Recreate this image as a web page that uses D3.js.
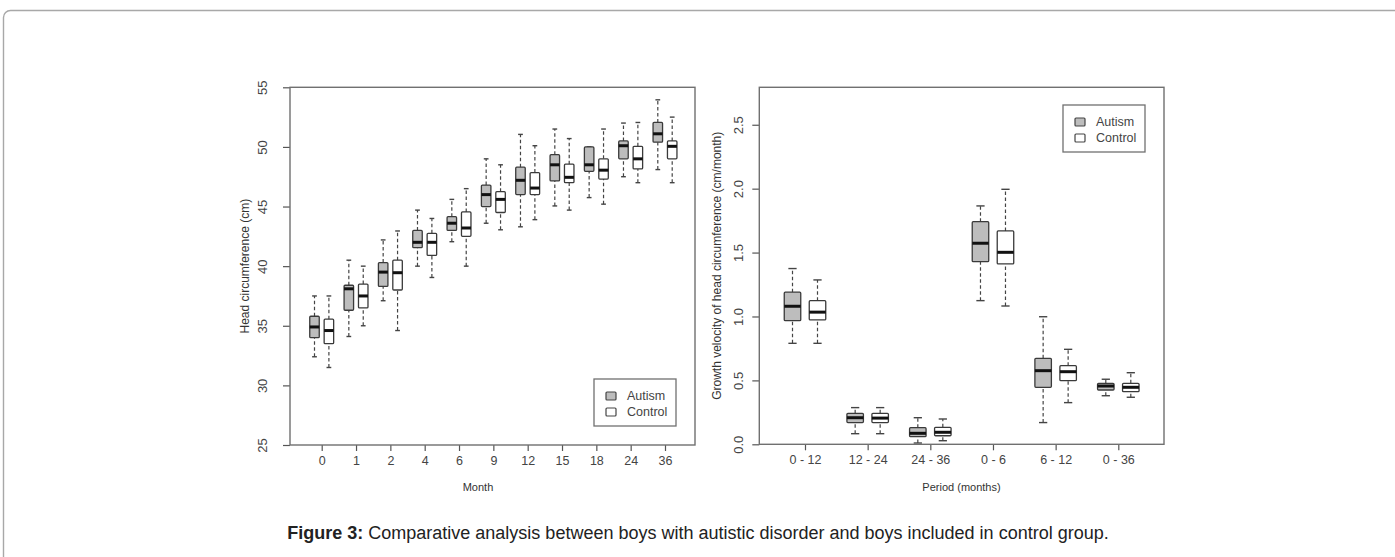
<!DOCTYPE html>
<html>
<head>
<meta charset="utf-8">
<script src="https://cdn.jsdelivr.net/npm/d3@7"></script>
<style>
  body { margin: 0; background: #fff; }
  svg { display: block; font-family: "Liberation Sans", Arial, sans-serif; }
</style>
</head>
<body>
<div id="figure"></div>
<script>
// Data: each box is [lower whisker, Q1, median, Q3, upper whisker]
var months = ['0', '1', '2', '4', '6', '9', '12', '15', '18', '24', '36'];

var headAutism = [
    [32.4, 34.0, 34.9, 35.8, 37.5],
    [34.1, 36.3, 38.1, 38.4, 40.5],
    [37.1, 38.3, 39.5, 40.3, 42.2],
    [40.0, 41.55, 42.0, 43.0, 44.7],
    [42.05, 43.0, 43.6, 44.15, 45.6],
    [43.6, 45.0, 46.0, 46.8, 49.0],
    [43.3, 46.0, 47.2, 48.3, 51.05],
    [45.05, 47.15, 48.5, 49.35, 51.5],
    [45.75, 47.95, 48.5, 50.0, 50.0],
    [47.5, 49.0, 50.1, 50.5, 52.0],
    [48.1, 50.4, 51.1, 52.05, 53.95]
];

var headControl = [
    [31.5, 33.5, 34.6, 35.55, 37.5],
    [35.0, 36.5, 37.5, 38.5, 40.0],
    [34.6, 38.0, 39.45, 40.5, 42.95],
    [39.05, 40.9, 42.0, 42.75, 44.0],
    [40.0, 42.5, 43.2, 44.55, 46.5],
    [43.05, 44.5, 45.6, 46.25, 48.5],
    [43.9, 46.0, 46.55, 47.85, 50.1],
    [44.7, 47.0, 47.45, 48.55, 50.7],
    [45.2, 47.3, 48.05, 49.0, 51.5],
    [47.0, 48.15, 49.0, 50.05, 52.05],
    [47.0, 49.0, 50.05, 50.5, 52.5]
];

var periods = ['0 - 12', '12 - 24', '24 - 36', '0 - 6', '6 - 12', '0 - 36'];

var velAutism = [
    [0.79, 0.967, 1.08, 1.19, 1.375],
    [0.083, 0.17, 0.208, 0.242, 0.287],
    [0.01, 0.06, 0.086, 0.13, 0.208],
    [1.124, 1.429, 1.573, 1.742, 1.865],
    [0.17, 0.446, 0.576, 0.673, 0.998],
    [0.38, 0.425, 0.456, 0.477, 0.509]
];

var velControl = [
    [0.79, 0.973, 1.034, 1.124, 1.286],
    [0.083, 0.17, 0.205, 0.242, 0.287],
    [0.028, 0.067, 0.094, 0.133, 0.198],
    [1.082, 1.411, 1.502, 1.669, 1.995],
    [0.326, 0.498, 0.568, 0.615, 0.743],
    [0.368, 0.412, 0.446, 0.477, 0.56]
];

var headTicks = [25, 30, 35, 40, 45, 50, 55];
var velTicks = [0, 0.5, 1.0, 1.5, 2.0, 2.5];
var groups = ['Autism', 'Control'];
var groupFill = ['#bdbdbd', '#ffffff'];

var svgWidth = 1395;
var svgHeight = 557;

var svg = d3.select('#figure')
    .append('svg')
    .attr('width', svgWidth)
    .attr('height', svgHeight);

// page frame round the figure
svg.append('rect')
    .attr('x', 3.5)
    .attr('y', 10.5)
    .attr('width', 1500)
    .attr('height', 700)
    .attr('rx', 7)
    .attr('fill', 'none')
    .attr('stroke', '#a8a8a8')
    .attr('stroke-width', 1.4);

function drawPanel(opt) {
    var g = svg.append('g');

    var x = d3.scalePoint().domain(opt.cats).range(opt.xRange);
    var y = d3.scaleLinear().domain(opt.yDomain).range(opt.yRange);

    var left = opt.box[0], right = opt.box[1];
    var top = y(opt.yDomain[1]), bottom = y(opt.yDomain[0]);

    // x axis ticks and labels
    var xAxis = d3.axisBottom(x).tickSize(6).tickPadding(5);
    var gx = g.append('g')
        .attr('transform', `translate(0, ${bottom})`)
        .call(xAxis);
    gx.select('.domain').remove();
    gx.selectAll('line').attr('stroke', '#555').attr('stroke-width', 1.2);
    gx.selectAll('text')
        .attr('font-size', '12.5px')
        .attr('fill', '#444')
        .attr('font-family', '"Liberation Sans", Arial, sans-serif');

    // y axis with R style vertical labels (tick groups are already at y)
    var yAxis = d3.axisLeft(y).tickValues(opt.yTicks).tickSize(7)
        .tickFormat(opt.yFormat);
    var gy = g.append('g')
        .attr('transform', `translate(${left}, 0)`)
        .call(yAxis);
    gy.select('.domain').remove();
    gy.selectAll('line').attr('stroke', '#555').attr('stroke-width', 1.2);
    gy.selectAll('text')
        .attr('font-size', '13px')
        .attr('fill', '#444')
        .attr('font-family', '"Liberation Sans", Arial, sans-serif')
        .attr('text-anchor', 'middle')
        .attr('dy', null)
        .attr('x', 0)
        .attr('y', 4.5)
        .attr('transform', `translate(${opt.yLabelX - left}, 0) rotate(-90)`);

    // boxes, one pair per category
    var series = [opt.autism, opt.control];
    series.forEach(function(values, gi) {
        var off = (gi === 0 ? -1 : 1) * opt.offset;
        var bw = opt.boxWidth;
        var sel = g.append('g').selectAll('g')
            .data(values)
            .enter()
            .append('g')
            .attr('transform', (d, i) => `translate(${x(opt.cats[i]) + off}, 0)`);

        // dashed whiskers
        sel.append('line')
            .attr('y1', d => y(d[0])).attr('y2', d => y(d[1]))
            .attr('stroke', '#444').attr('stroke-width', 1.2)
            .attr('stroke-dasharray', '3.5,2.5');
        sel.append('line')
            .attr('y1', d => y(d[3])).attr('y2', d => y(d[4]))
            .attr('stroke', '#444').attr('stroke-width', 1.2)
            .attr('stroke-dasharray', '3.5,2.5');
        // staples
        sel.append('line')
            .attr('x1', -bw / 4).attr('x2', bw / 4)
            .attr('y1', d => y(d[0])).attr('y2', d => y(d[0]))
            .attr('stroke', '#444').attr('stroke-width', 1.4);
        sel.append('line')
            .attr('x1', -bw / 4).attr('x2', bw / 4)
            .attr('y1', d => y(d[4])).attr('y2', d => y(d[4]))
            .attr('stroke', '#444').attr('stroke-width', 1.4);
        // box
        sel.append('rect')
            .attr('x', -bw / 2)
            .attr('width', bw)
            .attr('y', d => y(d[3]))
            .attr('height', d => y(d[1]) - y(d[3]))
            .attr('rx', 1)
            .attr('fill', groupFill[gi])
            .attr('stroke', '#3a3a3a')
            .attr('stroke-width', 1.3);
        // median
        sel.append('line')
            .attr('x1', -bw / 2).attr('x2', bw / 2)
            .attr('y1', d => y(d[2])).attr('y2', d => y(d[2]))
            .attr('stroke', '#111').attr('stroke-width', 3);
    });

    // plot box
    g.append('rect')
        .attr('x', left)
        .attr('y', top)
        .attr('width', right - left)
        .attr('height', bottom - top)
        .attr('fill', 'none')
        .attr('stroke', '#707070')
        .attr('stroke-width', 1.4);

    // axis titles
    g.append('text')
        .attr('x', opt.xTitleX)
        .attr('y', 491)
        .attr('text-anchor', 'middle')
        .attr('font-size', '11px')
        .attr('fill', '#333')
        .text(opt.xTitle);

    g.append('text')
        .attr('transform', `translate(${opt.yTitleX}, ${(top + bottom) / 2}) rotate(-90)`)
        .attr('text-anchor', 'middle')
        .attr('font-size', '12px')
        .attr('fill', '#333')
        .text(opt.yTitle);

    // legend
    var lg = g.append('g').attr('transform', `translate(${opt.legend[0]}, ${opt.legend[1]})`);
    lg.append('rect')
        .attr('width', 82)
        .attr('height', 47)
        .attr('fill', '#fff')
        .attr('stroke', '#707070')
        .attr('stroke-width', 1.3);
    groups.forEach(function(name, gi) {
        lg.append('rect')
            .attr('x', 12)
            .attr('y', 13 + gi * 16)
            .attr('width', 10)
            .attr('height', 8)
            .attr('rx', 1)
            .attr('fill', groupFill[gi])
            .attr('stroke', '#444')
            .attr('stroke-width', 1.2);
        lg.append('text')
            .attr('x', 33)
            .attr('y', 21 + gi * 16)
            .attr('font-size', '12.5px')
            .attr('fill', '#444')
            .text(name);
    });
}

// left panel: head circumference by month
drawPanel({
    cats: months,
    xRange: [321.7, 665],
    box: [290, 695],
    yDomain: [25, 55],
    yRange: [445, 87.3],
    yTicks: headTicks,
    yFormat: d3.format('d'),
    yLabelX: 262,
    yTitleX: 249,
    xTitleX: 478,
    autism: headAutism,
    control: headControl,
    boxWidth: 9.5,
    offset: 7.2,
    xTitle: 'Month',
    yTitle: 'Head circumference (cm)',
    legend: [594, 379]
});

// right panel: growth velocity by period
drawPanel({
    cats: periods,
    xRange: [805, 1118.3],
    box: [759.3, 1164],
    yDomain: [0, 2.793],
    yRange: [444.3, 87.3],
    yTicks: velTicks,
    yFormat: d3.format('.1f'),
    yLabelX: 738.5,
    yTitleX: 720.5,
    xTitleX: 961.5,
    autism: velAutism,
    control: velControl,
    boxWidth: 16.5,
    offset: 12.5,
    xTitle: 'Period (months)',
    yTitle: 'Growth velocity of head circumference (cm/month)',
    legend: [1063, 105]
});

// caption
var caption = svg.append('text')
    .attr('x', 698)
    .attr('y', 539)
    .attr('text-anchor', 'middle')
    .attr('font-size', '18px')
    .attr('fill', '#222');
caption.append('tspan').attr('font-weight', 'bold').text('Figure 3:');
caption.append('tspan').text(' Comparative analysis between boys with autistic disorder and boys included in control group.');
</script>
</body>
</html>
